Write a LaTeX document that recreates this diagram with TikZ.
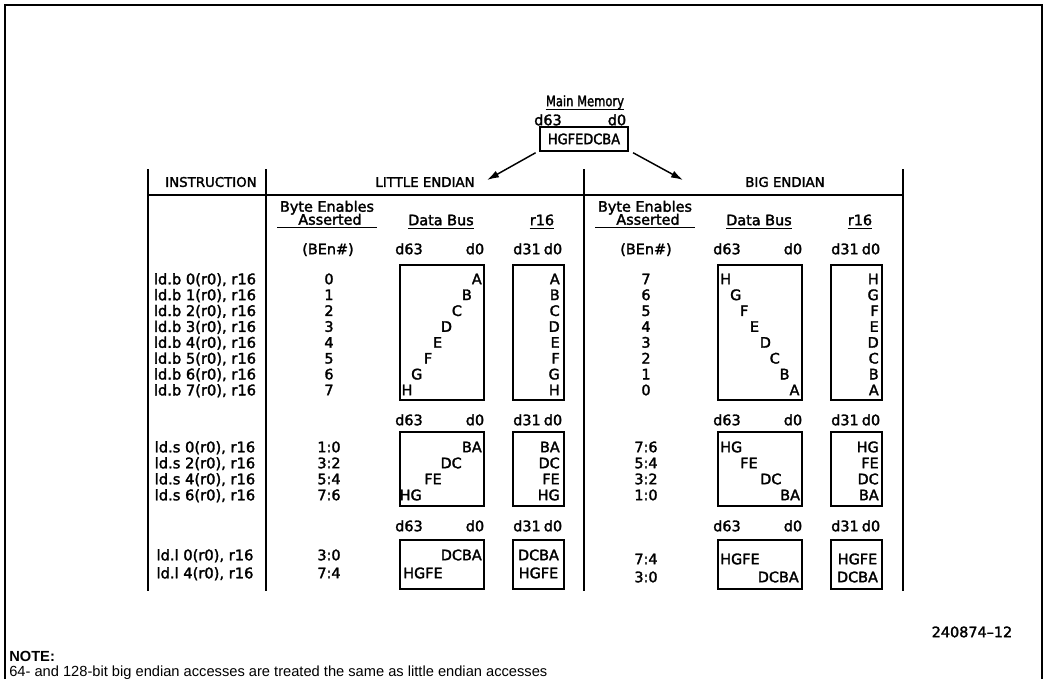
\documentclass[tikz,border=0pt]{standalone}
\usepackage{fontspec}
\setmainfont{Liberation Sans}
\newfontfamily\dvfont{DejaVu Sans}[FakeBold=2]
\usetikzlibrary{arrows.meta,fit}
\begin{document}
\begin{tikzpicture}[x=0.75pt,y=-0.75pt,
  t/.style={inner sep=0pt,text height=7.8pt,text depth=0pt,font=\dvfont\fontsize{10.8}{13}\selectfont},
  hd/.style={t,font=\dvfont\fontsize{10}{12}\selectfont,text height=7.3pt},
  ins/.style={t,font=\dvfont\fontsize{11}{13}\selectfont,text height=8pt},
  box/.style={draw,line width=1.5pt,inner sep=0pt},
  tl/.style={line width=1.9pt},
  ul/.style={line width=1pt},
  arr/.style={-{Latex[length=9pt,width=5.5pt]},line width=1.1pt},
  fr/.style={line width=1.4pt},
  note/.style={inner sep=0pt,anchor=west,font=\fontsize{11}{13}\selectfont}]
\useasboundingbox (0,0) rectangle (1046,679);
% frame
\draw[fr] (5,679) -- (5,5) -- (1042,5) -- (1042,679);
% main memory
\node[t] (mmt) at (585,101) {\scalebox{0.8}[1]{Main Memory}};
\draw[ul] ([yshift=-2.5pt]mmt.south west) -- ([yshift=-2.5pt]mmt.south east);
\node[t] (m63) at (548,120) {d63};
\node[t] (m0) at (617,120) {d0};
\node[box,line width=1.6pt,fit={(540,127) (628,151)}] (mm) {};
\node[t] at (mm.center) (mmx) {\scalebox{0.9}[1]{HGFEDCBA}};
\coordinate (al) at (487,180);
\coordinate (ar) at (683,180);
\draw[arr] ([xshift=-2.5pt,yshift=-0.5pt]mm.south west) -- (al);
\draw[arr] ([xshift=3pt,yshift=-0.5pt]mm.south east) -- (ar);
% table lines
\draw[tl] (148,169) -- (148,591);
\draw[tl] (266,169) -- (266,591);
\draw[tl] (584,169) -- (584,591);
\draw[tl] (903,169) -- (903,591);
\draw[tl] (148,195) -- (903,195);
% headers
\node[hd] (hins) at (211,182) {INSTRUCTION};
\node[hd] (hle) at (425,182) {LITTLE ENDIAN};
\node[hd] (hbe) at (785,182) {BIG ENDIAN};
% column headings
\foreach \c/\o in {L/0,B/318} {
  \node[t] (be1\c) at (327+\o,206.5) {Byte Enables};
  \node[t] (be2\c) at (330+\o,219.5) {Asserted};
  \draw[ul] (277+\o,227.5) -- (377+\o,227.5);
  \node[t] (db\c) at (441+\o,220) {Data Bus};
  \draw[ul] ([yshift=-2.3pt]db\c.south west) -- ([yshift=-2.3pt]db\c.south east);
  \node[t] (r\c) at (542+\o,220) {r16};
  \draw[ul] ([yshift=-2.3pt]r\c.south west) -- ([yshift=-2.3pt]r\c.south east);
  \node[t] (ben\c) at (328+\o,249) {(BEn\#)};
  \foreach \y/\k in {249/a,420/b,526/c} {
    \node[t] (da\c\k) at (409+\o,\y) {d63};
    \node[t] (db\c\k) at (475+\o,\y) {d0};
    \node[t] (dc\c\k) at (527+\o,\y) {d31};
    \node[t] (dd\c\k) at (553+\o,\y) {d0};
  }
  \node[box,fit={(400+\o,265) (484+\o,400)}] (bb\c) {};
  \node[box,fit={(513+\o,265) (564+\o,400)}] (rb\c) {};
  \node[box,fit={(400+\o,432) (484+\o,506)}] (bs\c) {};
  \node[box,fit={(513+\o,432) (564+\o,506)}] (rs\c) {};
  \node[box,fit={(400+\o,540) (484+\o,589)}] (bl\c) {};
  \node[box,fit={(513+\o,540) (564+\o,589)}] (rl\c) {};
}
% instructions
\foreach \i in {0,...,7}
  \node[ins] (ib\i) at (205,279+15.86*\i) {ld.b \i(r0), r16};
\foreach \o [count=\i from 0] in {0,2,4,6}
  \node[ins] (is\i) at (205,447+16*\i) {ld.s \o(r0), r16};
\node[ins] (il0) at (205,555) {ld.l 0(r0), r16};
\node[ins] (il1) at (205,573) {ld.l 4(r0), r16};
% little endian ld.b
\foreach \L [count=\i from 0] in {A,B,C,D,E,F,G,H} {
  \node[t,anchor=east] (lbd\i) at (482-9.9*\i,279+15.86*\i) {\L};
  \node[t] (lbn\i) at (329,279+15.86*\i) {\i};
  \node[t,anchor=east] (lbr\i) at (560,279+15.86*\i) {\L};
}
% big endian ld.b
\foreach \L/\n [count=\i from 0] in {H/7,G/6,F/5,E/4,D/3,C/2,B/1,A/0} {
  \node[t,anchor=west] (bbd\i) at (720+9.9*\i,279+15.86*\i) {\L};
  \node[t] (bbn\i) at (646,279+15.86*\i) {\n};
  \node[t,anchor=east] (bbr\i) at (879,279+15.86*\i) {\L};
}
% little endian ld.s
\foreach \P/\N [count=\i from 0] in {BA/1:0,DC/3:2,FE/5:4,HG/7:6} {
  \node[t,anchor=east] (lsd\i) at (482-20*\i,447+16*\i) {\P};
  \node[t] (lsn\i) at (329,447+16*\i) {\N};
  \node[t,anchor=east] (lsr\i) at (560,447+16*\i) {\P};
}
% big endian ld.s
\foreach \P/\N [count=\i from 0] in {HG/7:6,FE/5:4,DC/3:2,BA/1:0} {
  \node[t,anchor=west] (bsd\i) at (720+20*\i,447+16*\i) {\P};
  \node[t] (bsn\i) at (646,447+16*\i) {\N};
  \node[t,anchor=east] (bsr\i) at (879,447+16*\i) {\P};
}
% little endian ld.l
\node[t,anchor=east] (lld0) at (482,555) {DCBA};
\node[t,anchor=west] (lld1) at (403,573) {HGFE};
\node[t] (lln0) at (329,555) {3:0};
\node[t] (lln1) at (329,573) {7:4};
\node[t] (llr0) at (538.5,555) {DCBA};
\node[t] (llr1) at (538.5,573) {HGFE};
% big endian ld.l
\node[t,anchor=west] (bld0) at (720,559) {HGFE};
\node[t,anchor=east] (bld1) at (799,577) {DCBA};
\node[t] (bln0) at (646,559) {7:4};
\node[t] (bln1) at (646,577) {3:0};
\node[t] (blr0) at (857.5,559) {HGFE};
\node[t] (blr1) at (857.5,577) {DCBA};
% figure number and note
\node[t] (fig) at (972,632) {240874–12};
\node[note,font=\bfseries\fontsize{11}{13}\selectfont] (nt) at (9,656) {NOTE:};
\node[note] (ntx) at (9,673) {64- and 128-bit big endian accesses are treated the same as little endian accesses};
\end{tikzpicture}
\end{document}
